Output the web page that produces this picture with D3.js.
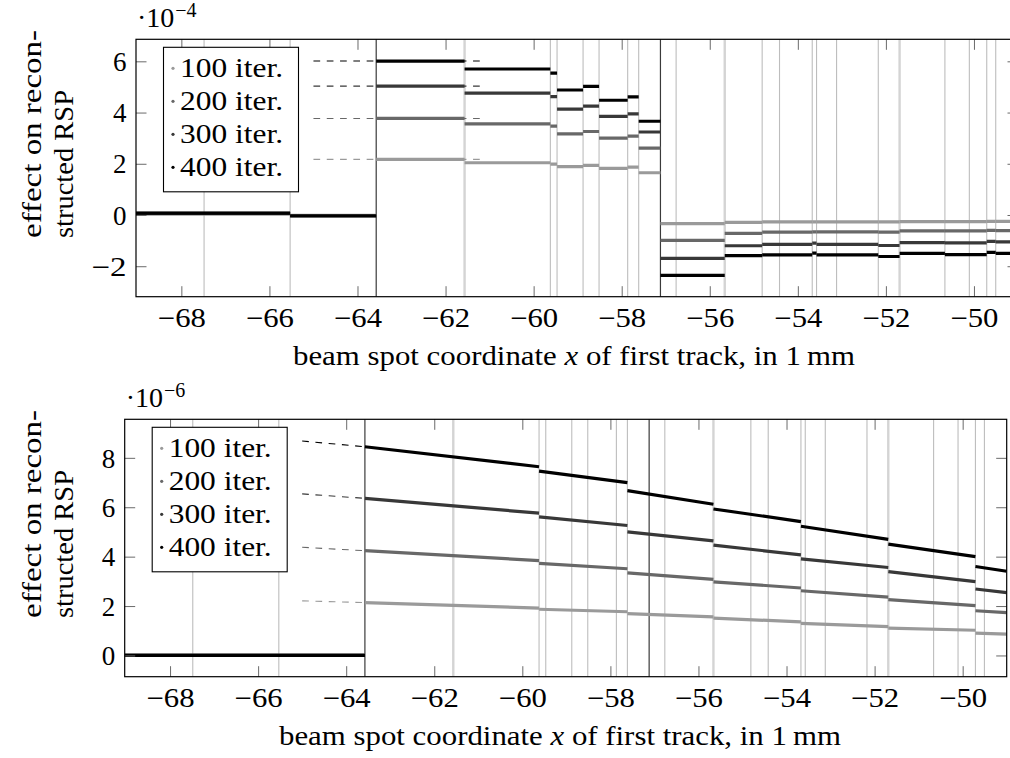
<!DOCTYPE html>
<html>
<head>
<meta charset="utf-8">
<script src="https://cdn.jsdelivr.net/npm/d3@7/dist/d3.min.js"></script>
<style>
  html, body { margin: 0; padding: 0; background: #fff; }
  svg { display: block; }
</style>
</head>
<body>
<script>
// ---- data -------------------------------------------------------------
const seriesNames = ["100 iter.", "200 iter.", "300 iter.", "400 iter."];
const seriesColors = ["#9a9a9a", "#686868", "#383838", "#000000"];
const xTicks = [-68, -66, -64, -62, -60, -58, -56, -54, -52, -50];

// track boundaries (vertical guide lines)
const trackLines = [-67.484, -65.53, -59.62, -59.468, -58.877, -58.514, -57.864, -57.614,
  -56.764, -54.81, -54.416, -53.673, -53.575, -53.12, -52.173, -50.66, -50.105, -49.71, -49.506];
const trackLinesWide = [-61.568, -55.66, -51.689];
const layerLines = [-63.575, -57.12];

// upper panel: piecewise constant effect (units of 1e-4)
const topTicksY = [-2, 0, 2, 4, 6];
const topEdges = [-69.03, -65.53, -63.575, -61.568, -59.62, -59.468, -58.877, -58.514, -57.864,
  -57.614, -57.12, -55.66, -54.81, -53.673, -53.575, -52.173, -51.689, -50.66, -49.71, -49.506, -49.0];
const top100 = [0.04, -0.01, 2.17, 2.04, 1.99, 1.89, 1.94, 1.82, 1.87, 1.65,
  -0.34, -0.29, -0.27, -0.27, -0.27, -0.27, -0.26, -0.26, -0.25, -0.25];
const top200 = [0.05, -0.02, 3.77, 3.56, 3.47, 3.17, 3.26, 3.00, 3.08, 2.61,
  -0.99, -0.72, -0.67, -0.66, -0.66, -0.67, -0.62, -0.62, -0.60, -0.61];
const top300 = [0.06, -0.03, 5.03, 4.76, 4.62, 4.13, 4.25, 3.85, 3.95, 3.24,
  -1.69, -1.20, -1.15, -1.10, -1.15, -1.19, -1.08, -1.09, -1.03, -1.05];
const top400 = [0.07, -0.04, 6.01, 5.70, 5.54, 4.88, 5.02, 4.48, 4.61, 3.66,
  -2.36, -1.59, -1.56, -1.49, -1.56, -1.62, -1.50, -1.55, -1.46, -1.50];
const topGuideFrom = -65.0, topGuideTo = -61.2;

// lower panel: piecewise linear effect (units of 1e-6), start/end value per segment
const botTicksY = [0, 2, 4, 6, 8];
const botEdges = [-69.03, -63.575, -59.62, -57.614, -55.66, -53.673, -51.689, -49.71, -49.0];
const bot100Start = [0, 2.14, 1.87, 1.69, 1.51, 1.30, 1.11, 0.90];
const bot100End   = [0, 1.92, 1.77, 1.56, 1.36, 1.17, 1.02, 0.86];
const bot200Start = [0, 4.24, 3.73, 3.34, 2.98, 2.62, 2.26, 1.81];
const bot200End   = [0, 3.84, 3.51, 3.08, 2.73, 2.36, 2.02, 1.73];
const bot300Start = [0, 6.36, 5.61, 5.00, 4.47, 3.91, 3.39, 2.69];
const bot300End   = [0, 5.76, 5.26, 4.64, 4.07, 3.56, 2.99, 2.54];
const bot400Start = [0, 8.45, 7.46, 6.67, 5.93, 5.23, 4.51, 3.60];
const bot400End   = [0, 7.64, 7.00, 6.12, 5.42, 4.70, 4.00, 3.41];
const botGuideFrom = -65.0;
const botGuideStart = [2.21, 4.38, 6.54, 8.68];

// ---- drawing ----------------------------------------------------------
const W = 1010, H = 758, FS = 27;
const SERIF = "Liberation Serif";
const svg = d3.select("body").append("svg").attr("width", W).attr("height", H)
  .attr("font-family", SERIF);
const xDomain = [-69.03, -49.0];

function txt(sel) {
  return sel.append("text").attr("font-family", SERIF).attr("fill", "#000");
}
const minus = v => v < 0 ? "\u2212" + Math.abs(v) : String(v);

function panel(cfg) {
  const g = svg.append("g");
  const x = d3.scaleLinear().domain(xDomain).range([cfg.left, cfg.right]);
  const y = d3.scaleLinear().domain(cfg.yDomain).range([cfg.bottom, cfg.top]);
  const clipId = "clip" + cfg.id;
  svg.append("clipPath").attr("id", clipId).append("rect")
    .attr("x", cfg.left).attr("y", cfg.top)
    .attr("width", cfg.right - cfg.left).attr("height", cfg.bottom - cfg.top);
  const plot = g.append("g").attr("clip-path", `url(#${clipId})`);

  // vertical guide lines
  plot.selectAll(".tl").data(trackLines).join("line")
    .attr("x1", d => x(d)).attr("x2", d => x(d))
    .attr("y1", cfg.top).attr("y2", cfg.bottom)
    .attr("stroke", "#bdbdbd").attr("stroke-width", 1.1);
  plot.selectAll(".tw").data(trackLinesWide).join("line")
    .attr("x1", d => x(d)).attr("x2", d => x(d))
    .attr("y1", cfg.top).attr("y2", cfg.bottom)
    .attr("stroke", "#d4d4d4").attr("stroke-width", 2.4);
  plot.selectAll(".ll").data(layerLines).join("line")
    .attr("x1", d => x(d)).attr("x2", d => x(d))
    .attr("y1", cfg.top).attr("y2", cfg.bottom)
    .attr("stroke", "#3a3a3a").attr("stroke-width", 1.2);

  // axes (ticks point inward)
  const tk = 10.5;
  const axB = g.append("g").attr("transform", `translate(0,${cfg.bottom})`)
    .call(d3.axisBottom(x).tickValues(xTicks).tickSizeInner(-tk).tickSizeOuter(0).tickFormat(minus));
  const axT = g.append("g").attr("transform", `translate(0,${cfg.top})`)
    .call(d3.axisTop(x).tickValues(xTicks).tickSizeInner(-tk).tickSizeOuter(0).tickFormat(""));
  const axL = g.append("g").attr("transform", `translate(${cfg.left},0)`)
    .call(d3.axisLeft(y).tickValues(cfg.yTicks).tickSizeInner(-tk).tickSizeOuter(0).tickFormat(minus));
  const axR = g.append("g").attr("transform", `translate(${cfg.right},0)`)
    .call(d3.axisRight(y).tickValues(cfg.yTicks).tickSizeInner(-tk).tickSizeOuter(0).tickFormat(""));
  [axB, axT, axL, axR].forEach(a => {
    a.attr("font-family", SERIF).attr("font-size", FS);
    a.select(".domain").remove();
    a.selectAll(".tick line").attr("stroke", "#6a6a6a").attr("stroke-width", 1);
    a.selectAll("text").attr("font-size", FS).attr("font-family", SERIF).attr("fill", "#000");
  });
  axB.selectAll("text").attr("y", 30).attr("dy", null)
    .attr("textLength", 48).attr("lengthAdjust", "spacingAndGlyphs");
  axL.selectAll("text").attr("x", -9.5).attr("dy", "0.34em")
    .filter(d => d < 0).attr("textLength", 35).attr("lengthAdjust", "spacingAndGlyphs");

  // series
  cfg.drawSeries(plot, x, y);

  // frame
  g.append("rect").attr("x", cfg.left).attr("y", cfg.top)
    .attr("width", cfg.right - cfg.left).attr("height", cfg.bottom - cfg.top)
    .attr("fill", "none").attr("stroke", "#000").attr("stroke-width", 1.2);

  // scale factor above the axis
  const sf = txt(g).attr("x", cfg.left + 1).attr("y", cfg.top - 12).attr("font-size", 28);
  sf.append("tspan").text("\u00b710");
  sf.append("tspan").attr("font-size", 20).attr("dy", -10).attr("dx", 1).text("\u2212" + cfg.exponent);

  // y label (two lines, rotated)
  const ly = (cfg.top + cfg.bottom) / 2 + 70;
  txt(g).attr("transform", `translate(41,${ly}) rotate(-90)`)
    .attr("font-size", 28).attr("textLength", 208).attr("lengthAdjust", "spacingAndGlyphs")
    .text("effect on recon-");
  txt(g).attr("transform", `translate(73,${ly}) rotate(-90)`)
    .attr("font-size", 28).attr("textLength", 148).attr("lengthAdjust", "spacingAndGlyphs")
    .text("structed RSP");

  // x label
  const xl = txt(g).attr("x", cfg.labelX).attr("y", cfg.bottom + 68)
    .attr("text-anchor", "middle").attr("font-size", 28)
    .attr("textLength", 562).attr("lengthAdjust", "spacingAndGlyphs");
  xl.append("tspan").text("beam spot coordinate ");
  xl.append("tspan").attr("font-style", "italic").text("x");
  xl.append("tspan").text(" of first track, in 1\u2009mm");

  // legend
  const lx = cfg.left + 27.5, lyTop = cfg.top + 8;
  g.append("rect").attr("x", lx).attr("y", lyTop).attr("width", 135).attr("height", 144.5)
    .attr("fill", "#fff").attr("stroke", "#000").attr("stroke-width", 1.1);
  seriesNames.forEach((name, i) => {
    const by = lyTop + 29.5 + i * 33;
    g.append("circle").attr("cx", lx + 9.5).attr("cy", by - 8.5).attr("r", 1.6)
      .attr("fill", seriesColors[i]);
    txt(g).attr("x", lx + 16.5).attr("y", by).attr("font-size", 28)
      .attr("textLength", 103).attr("lengthAdjust", "spacingAndGlyphs").text(name);
  });
}

const lw = 3.2;

panel({
  id: "top", left: 136, right: 1018, top: 39.3, bottom: 296.7, labelX: 574,
  yDomain: [-3.19, 6.86], yTicks: topTicksY, exponent: "4",
  drawSeries(plot, x, y) {
    const sets = [top100, top200, top300, top400];
    sets.forEach((vals, s) => {
      // dashed guide at the first level after the layer boundary
      plot.append("line")
        .attr("x1", x(topGuideFrom)).attr("x2", x(topGuideTo))
        .attr("y1", y(vals[2])).attr("y2", y(vals[2]))
        .attr("stroke", seriesColors[s]).attr("stroke-width", 1.1)
        .attr("stroke-dasharray", "6.7,6.6");
    });
    sets.forEach((vals, s) => {
      plot.selectAll(null).data(vals).join("line")
        .attr("x1", (d, i) => x(topEdges[i])).attr("x2", (d, i) => x(topEdges[i + 1]))
        .attr("y1", d => y(d)).attr("y2", d => y(d))
        .attr("stroke", seriesColors[s]).attr("stroke-width", lw);
    });
  }
});

panel({
  id: "bot", left: 124.7, right: 1006.7, top: 419.3, bottom: 676.7, labelX: 560,
  yDomain: [-0.86, 9.56], yTicks: botTicksY, exponent: "6",
  drawSeries(plot, x, y) {
    const starts = [bot100Start, bot200Start, bot300Start, bot400Start];
    const ends = [bot100End, bot200End, bot300End, bot400End];
    starts.forEach((st, s) => {
      plot.append("line")
        .attr("x1", x(botGuideFrom)).attr("x2", x(botEdges[1]))
        .attr("y1", y(botGuideStart[s])).attr("y2", y(st[1]))
        .attr("stroke", seriesColors[s]).attr("stroke-width", 1.1)
        .attr("stroke-dasharray", "6.7,6.6");
    });
    starts.forEach((st, s) => {
      plot.selectAll(null).data(st).join("line")
        .attr("x1", (d, i) => x(botEdges[i])).attr("x2", (d, i) => x(botEdges[i + 1]))
        .attr("y1", d => y(d)).attr("y2", (d, i) => y(ends[s][i]))
        .attr("stroke", seriesColors[s]).attr("stroke-width", lw);
    });
  }
});
</script>
</body>
</html>
